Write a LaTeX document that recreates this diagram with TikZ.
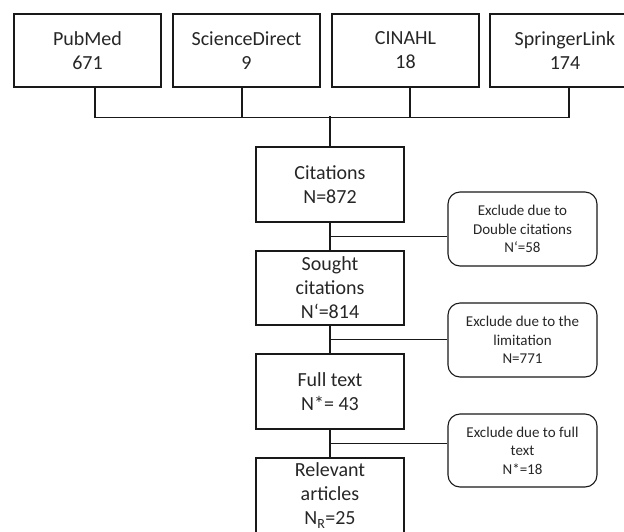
\documentclass[tikz,border=0pt]{standalone}
\usepackage{fontspec}
\setmainfont{Carlito}
\usetikzlibrary{calc}

\begin{document}
\begin{tikzpicture}[x=1pt,y=-1pt,line width=1.1pt,draw=black!90,
  every node/.append style={text=black!85,align=center,inner sep=0pt},
  src/.style={draw,minimum width=147pt,minimum height=73pt,font=\fontsize{20}{24}\selectfont},
  stage/.style={draw,minimum width=148pt,minimum height=75pt,font=\fontsize{20}{24}\selectfont},
  excl/.style={draw,rounded corners=12pt,minimum width=149pt,minimum height=74pt,font=\fontsize{15}{18.5}\selectfont}]
  \useasboundingbox (0,0) rectangle (624,531);
  \clip (0,0) rectangle (624,531);
  % databases
  \node (src_1) [src] at (87.5,50.5) {PubMed\\671};
  \node (src_2) [src] at (246.5,50.5) {ScienceDirect\\9};
  \node (src_3) [src] at (405.5,50.5) {CINAHL\\18};
  \node (src_4) [src,minimum width=150pt] at (565,50.5) {SpringerLink\\174};
  % screening steps
  \node (stage_1) [stage] at (330,184.5) {Citations\\N=872};
  \node (stage_2) [stage,minimum height=74pt] at (330,288) {Sought\\citations\\N‘=814};
  \node (stage_3) [stage] at (330,391.5) {Full text\\N*= 43};
  \node (stage_4) [stage,line width=2.2pt] at (330,495.5) {Relevant\\articles\\N\textsubscript{R}=25};
  % exclusions
  \node (excl_1) [excl] at (522.5,229) {Exclude due to\\Double citations\\N‘=58};
  \node (excl_2) [excl] at (522.5,340) {Exclude due to the\\limitation\\N=771};
  \node (excl_3) [excl,minimum height=73pt] at (522.5,450.5) {Exclude due to full\\text\\N*=18};
  % merging lines
  \draw ([xshift=7.5]src_1.south) -- ++(0,30) -| ([xshift=4]src_4.south);
  \draw ([xshift=-4.5]src_2.south) -- ++(0,30);
  \draw ([xshift=4.5]src_3.south) -- ++(0,30);
  \draw (stage_1.north) -- ++(0,-30);
  % flow down
  \draw (stage_1) -- (stage_2);
  \draw (stage_2) -- (stage_3);
  \draw (stage_3) -- (stage_4);
  \coordinate (cut_1) at ($(stage_1.south)!.5!(stage_2.north)$);
  \coordinate (cut_2) at ($(stage_2.south)!.5!(stage_3.north)$);
  \coordinate (cut_3) at ($(stage_3.south)!.5!(stage_4.north)$);
  \draw (cut_1) -- (cut_1 -| excl_1.west);
  \draw (cut_2) -- (cut_2 -| excl_2.west);
  \draw (cut_3) -- (cut_3 -| excl_3.west);
\end{tikzpicture}
\end{document}
